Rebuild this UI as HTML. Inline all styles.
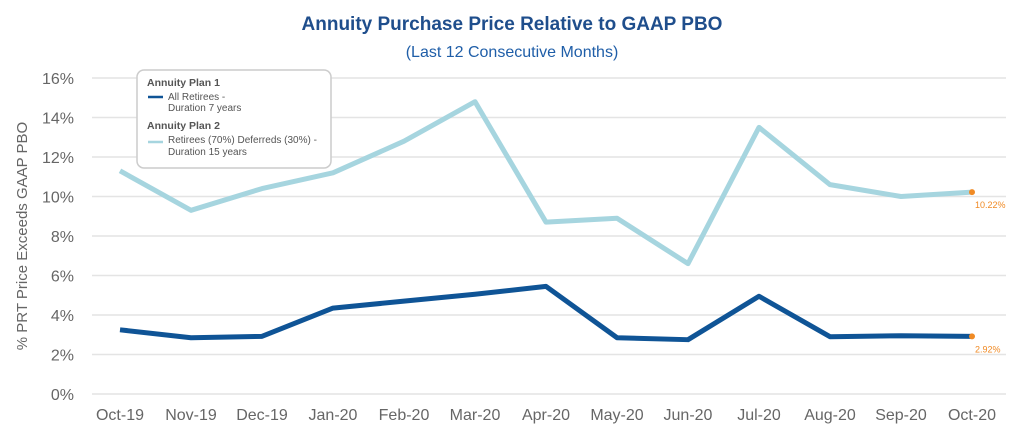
<!DOCTYPE html>
<html><head><meta charset="utf-8"><style>
body{margin:0;background:#fff;width:1024px;height:441px;overflow:hidden;font-family:"Liberation Sans",sans-serif}
</style></head><body>
<svg id="chart" width="1024" height="441" xmlns="http://www.w3.org/2000/svg">
<text x="512" y="30" text-anchor="middle" font-size="19" font-weight="bold" fill="#1f4e8c">Annuity Purchase Price Relative to GAAP PBO</text>
<text x="512" y="57" text-anchor="middle" font-size="16" fill="#1f5ea8">(Last 12 Consecutive Months)</text>
<text transform="translate(27,236) rotate(-90)" text-anchor="middle" font-size="15" fill="#666">% PRT Price Exceeds GAAP PBO</text>
<g id="grid"></g><g id="lines"></g>
<g>
<rect x="137" y="70" width="194" height="98" rx="7" fill="#fff" stroke="#ccc" stroke-width="1.5"/>
<text x="147" y="86" font-size="10.5" font-weight="bold" fill="#555">Annuity Plan 1</text>
<line x1="148" y1="97" x2="163" y2="97" stroke="#0f5496" stroke-width="2.5"/>
<text x="168" y="100" font-size="10" fill="#555">All Retirees -</text>
<text x="168" y="111" font-size="10" fill="#555">Duration 7 years</text>
<text x="147" y="129" font-size="10.5" font-weight="bold" fill="#555">Annuity Plan 2</text>
<line x1="148" y1="142" x2="163" y2="142" stroke="#a6d5df" stroke-width="2.5"/>
<text x="168" y="143" font-size="10" fill="#555">Retirees (70%) Deferreds (30%) -</text>
<text x="168" y="155" font-size="10" fill="#555">Duration 15 years</text>
</g>
</svg>
<script>
const categories=["Oct-19","Nov-19","Dec-19","Jan-20","Feb-20","Mar-20","Apr-20","May-20","Jun-20","Jul-20","Aug-20","Sep-20","Oct-20"];
const plan1=[3.25,2.85,2.92,4.35,4.7,5.05,5.45,2.85,2.75,4.95,2.9,2.95,2.92];
const plan2=[11.3,9.3,10.4,11.2,12.8,14.8,8.7,8.9,6.6,13.5,10.6,10.0,10.22];
const yTicks=[0,2,4,6,8,10,12,14,16];
const NS="http://www.w3.org/2000/svg";
const x=i=>120+i*(852/(categories.length-1));
const y=v=>394-v*(316/16);
const grid=document.getElementById('grid'),lines=document.getElementById('lines');
function mk(tag,attrs,parent){const e=document.createElementNS(NS,tag);for(const k in attrs)e.setAttribute(k,attrs[k]);parent.appendChild(e);return e;}
yTicks.forEach(t=>{
 const l=mk('line',{x1:92,x2:1006,y1:y(t),y2:y(t),stroke:'#e4e4e4','stroke-width':1.5},grid);
 
 
 const tx=mk('text',{x:74,y:y(t)+6,'text-anchor':'end','font-size':16,fill:'#666'},grid);
 tx.textContent=t+'%';
 
 
});
categories.forEach((c,i)=>{
 const tx=mk('text',{x:x(i),y:420,'text-anchor':'middle','font-size':16,fill:'#666'},grid);
 tx.textContent=c;
 
 
});
function series(vals,color,name){
 const p=mk('polyline',{points:vals.map((v,i)=>x(i)+','+y(v)).join(' '),fill:'none',stroke:color,'stroke-width':5,'stroke-linejoin':'round'},lines);
 
 
 const n=vals.length-1;
 const d=mk('circle',{cx:x(n),cy:y(vals[n]),r:3,fill:'#f08a24'},lines);
 
 
 const t=mk('text',{x:x(n)+3,y:y(vals[n])+16,'font-size':9,fill:'#f08a24'},lines);
 t.textContent=vals[n].toFixed(2)+'%';
 
 
}
series(plan2,'#a6d5df','plan2-line');
series(plan1,'#0f5496','plan1-line');
</script>
</body></html>
